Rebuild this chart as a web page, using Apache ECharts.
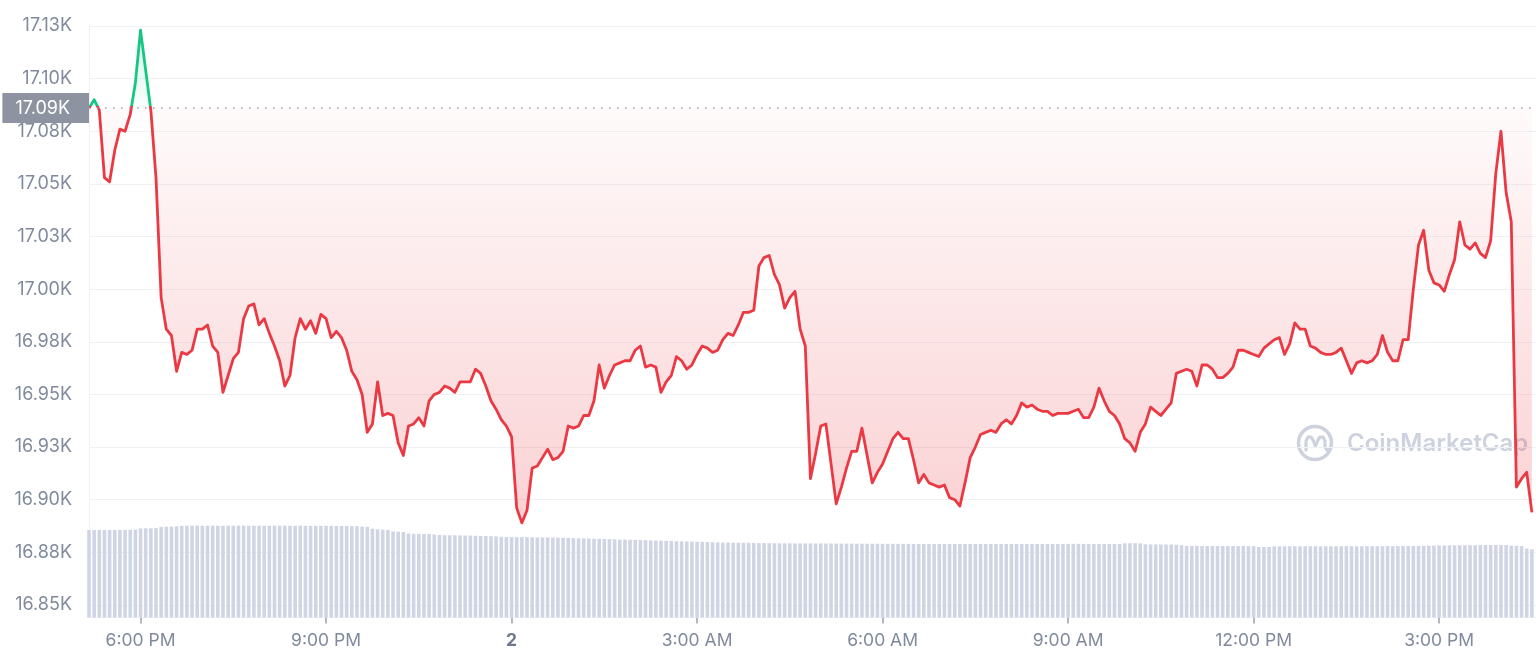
<!DOCTYPE html>
<html><head><meta charset="utf-8">
<script src="https://cdn.jsdelivr.net/npm/echarts@6/dist/echarts.min.js"></script>
<style>html,body{margin:0;padding:0;background:#fff}#c{width:1536px;height:661px}#err{position:absolute;left:300px;top:100px;color:#000;font:14px monospace}</style>
</head><body><div id="c"></div><div id="err"></div>
<script>
// ---- DATA ----
const startTime = '2022-12-01T17:10';   // first sample, 5-minute steps
const stepMinutes = 5;
const prices = [
17086,17090,17085,17053,17051,17066,17076,17075,17083,17098,
17123,17104,17085,17053,16996,16981,16978,16961,16970,16969,
16971,16981,16981,16983,16973,16970,16951,16959,16967,16970,
16986,16992,16993,16983,16986,16979,16973,16966,16954,16959,
16977,16986,16981,16985,16979,16988,16986,16977,16980,16977,
16971,16961,16957,16950,16932,16936,16956,16940,16941,16940,
16927,16921,16935,16936,16939,16935,16947,16950,16951,16954,
16953,16951,16956,16956,16956,16962,16960,16954,16947,16943,
16938,16935,16930,16896,16889,16895,16915,16916,16920,16924,
16919,16920,16923,16935,16934,16935,16940,16940,16947,16964,
16953,16959,16964,16965,16966,16966,16971,16973,16963,16964,
16963,16951,16956,16959,16968,16966,16962,16964,16969,16973,
16972,16970,16971,16976,16979,16978,16983,16989,16989,16990,
17011,17015,17016,17007,17002,16991,16996,16999,16981,16973,
16910,16922,16935,16936,16917,16898,16906,16915,16923,16923,
16934,16921,16908,16913,16917,16923,16929,16932,16929,16929,
16919,16908,16912,16908,16907,16906,16907,16901,16900,16897,
16908,16920,16925,16931,16932,16933,16932,16936,16938,16936,
16940,16946,16944,16945,16943,16942,16942,16940,16941,16941,
16941,16942,16943,16939,16939,16944,16953,16947,16942,16940,
16936,16929,16927,16923,16932,16936,16944,16942,16940,16943,
16946,16960,16961,16962,16961,16954,16964,16964,16962,16958,
16958,16960,16963,16971,16971,16970,16969,16968,16972,16974,
16976,16977,16969,16974,16984,16981,16981,16973,16972,16970,
16969,16969,16970,16972,16966,16960,16965,16966,16965,16966,
16969,16978,16970,16966,16966,16976,16976,17000,17021,17028,
17009,17003,17002,16999,17007,17014,17032,17021,17019,17022,
17017,17015,17023,17055,17075,17046,17032,16906,16910,16913,
16894
];
// 24h volume (billion USD)
const volumes = [
14.58,14.58,14.60,14.60,14.60,14.58,14.60,14.60,14.62,14.65,
14.85,14.87,14.87,14.90,
15.10,15.13,15.15,15.20,
15.28,15.30,15.30,15.32,15.30,15.30,15.31,
15.30,15.29,15.30,15.30,15.32,15.31,15.30,
15.30,15.30,15.29,15.30,15.31,15.30,15.30,
15.30,15.29,15.30,15.30,15.28,15.28,15.27,
15.28,15.27,15.26,15.25,15.25,15.24,15.22,
15.15,15.10,
14.80,14.70,14.65,14.60,
14.35,14.30,14.25,
14.00,13.95,13.95,13.90,13.90,13.85,
13.75,13.72,13.70,13.70,13.68,13.66,13.65,13.62,13.60,13.58,13.55,13.52,
13.45,13.42,13.42,13.40,13.40,13.40,13.38,13.36,13.35,13.35,13.33,13.30,13.28,
13.25,13.22,13.20,13.18,13.15,13.12,13.10,13.08,
13.05,13.02,13.00,12.98,12.95,12.92,12.90,12.88,12.85,12.82,
12.80,12.78,12.75,12.72,12.70,12.68,12.65,12.62,12.60,12.58,
12.55,12.52,12.50,12.50,12.48,12.46,12.45,12.44,12.42,12.40,12.40,12.38,12.38,12.37,12.37,
12.36,12.35,12.35,12.34,12.35,12.35,12.34,12.33,12.33,12.32,
12.32,12.31,12.31,12.30,12.30,12.30,12.29,12.29,12.28,12.28,
12.28,12.27,12.27,12.27,12.26,12.26,12.26,12.26,12.25,12.25,12.25,
12.25,12.25,12.25,12.25,12.25,12.25,12.25,12.25,12.25,12.25,
12.24,12.25,12.25,12.26,12.25,12.25,12.24,12.25,12.25,12.25,
12.25,12.25,12.26,12.27,12.28,12.28,12.27,12.26,12.25,12.25,
12.25,12.25,12.25,12.25,
12.37,12.38,12.38,12.36,
12.20,12.18,12.17,12.17,12.16,12.15,12.12,12.05,
11.95,11.93,11.92,11.92,11.92,11.91,11.92,11.92,11.92,11.91,11.90,11.90,11.90,11.88,
11.75,11.75,11.76,
11.86,11.87,11.87,11.88,11.87,11.87,11.87,11.88,11.88,11.87,
11.87,11.87,11.88,11.88,11.88,11.88,11.87,11.87,11.88,11.88,
11.88,11.88,11.89,11.89,11.90,11.90,11.92,11.92,11.93,11.94,11.95,
11.98,12.00,12.02,12.03,12.04,12.05,12.05,12.05,12.06,12.07,12.08,12.08,12.10,12.10,12.08,
11.98,11.95,11.90,
11.50,11.37
];
const xTickTimes = ['2022-12-01T18:00','2022-12-01T21:00','2022-12-02T00:00','2022-12-02T03:00',
                    '2022-12-02T06:00','2022-12-02T09:00','2022-12-02T12:00','2022-12-02T15:00'];
const xTickLabels = ['6:00 PM','9:00 PM','2','3:00 AM','6:00 AM','9:00 AM','12:00 PM','3:00 PM'];
const yMin = 16850, yMax = 17125, yStep = 25;
const axisEndMinutes = 1404;

// ---- BUILD ----
// x values are minutes elapsed since startTime
const t0 = new Date(startTime).getTime();
const minutes = prices.map((_, i) => i * stepMinutes);
const xTickMinutes = xTickTimes.map(s => Math.round((new Date(s).getTime() - t0) / 60000));
const fmtK = v => (Math.round(v / 10) / 100).toFixed(2) + 'K';
const openPrice = prices[0];
const pMax = Math.max(...prices), pMin = Math.min(...prices);
const f = (pMax - openPrice) / (pMax - pMin);

const GREEN = '#16c784', RED = '#ea3943', GREY = '#808a9d', FONT = 'Inter';
const WM = '#cdd2de';

try {
const chart = echarts.init(document.getElementById('c'), null, {renderer: 'canvas'});
chart.setOption({
  animation: false,
  backgroundColor: '#ffffff',
  textStyle: {fontFamily: FONT},
  grid: [
    {left: 89, right: 0, top: 26, bottom: 56},
    {left: 89, right: 0, top: 497.5, bottom: 43.5}
  ],
  xAxis: [
    {type: 'value', gridIndex: 0, min: 0, max: axisEndMinutes, show: false, splitLine: {show: false}},
    {type: 'value', gridIndex: 1, min: 0, max: axisEndMinutes,
     axisLine: {show: true, lineStyle: {color: '#eff2f5'}},
     axisTick: {show: true, customValues: xTickMinutes, length: 6, lineStyle: {color: '#9aa0ad', width: 1.5}},
     splitLine: {show: false},
     axisLabel: {customValues: xTickMinutes, color: GREY, fontSize: 17.5, margin: 14, fontFamily: FONT,
       formatter: v => {
         const i = xTickMinutes.indexOf(v);
         const s = i >= 0 ? xTickLabels[i] : '';
         return s.indexOf(':') < 0 && s ? '{b|' + s + '}' : s;
       },
       rich: {b: {fontWeight: 'bold', color: '#6f778a', fontSize: 17.5, fontFamily: FONT}}
     }}
  ],
  yAxis: [
    {type: 'value', gridIndex: 0, min: yMin, max: yMax, interval: yStep,
     axisLine: {show: true, lineStyle: {color: '#eff2f5'}},
     axisTick: {show: false},
     splitLine: {lineStyle: {color: '#eff2f5', width: 1}},
     axisLabel: {formatter: fmtK, color: GREY, fontSize: 18, margin: 17, fontFamily: FONT}},
    {type: 'value', gridIndex: 1, min: 0, max: 20, show: false, splitLine: {show: false}}
  ],
  graphic: [{
    type: 'group', x: 1297, y: 425, z: 1, silent: true,
    children: [
      {type: 'circle', shape: {cx: 18, cy: 18, r: 16.5}, style: {fill: 'none', stroke: WM, lineWidth: 3.5}},
      {type: 'polyline', shape: {points: [[9,25],[9,16],[11,12],[14,12],[16,15],[18.5,21],[21,15],[23,12],[26,12],[28,16],[28,22],[30,25],[33,23]]},
       style: {fill: 'none', stroke: WM, lineWidth: 3.2, lineCap: 'round', lineJoin: 'round'}},
      {type: 'text', x: 50, y: 19, style: {text: 'CoinMarketCap', font: '600 24px Inter', fill: WM, verticalAlign: 'middle'}}
    ]
  }],
  series: [
    {
      type: 'line', xAxisIndex: 0, yAxisIndex: 0, z: 3,
      data: minutes.map((m, i) => [m, prices[i]]),
      symbol: 'none', smooth: false,
      lineStyle: {width: 2.8, join: 'round', color: {type: 'linear', x: 0, y: 0, x2: 0, y2: 1, colorStops: [
        {offset: 0, color: GREEN}, {offset: f, color: GREEN},
        {offset: f, color: RED}, {offset: 1, color: RED}
      ]}},
      areaStyle: {
        origin: openPrice,
        color: {type: 'linear', x: 0, y: 0, x2: 0, y2: 1, colorStops: [
          {offset: 0, color: 'rgba(22,199,132,0.25)'},
          {offset: f, color: 'rgba(22,199,132,0.03)'},
          {offset: f, color: 'rgba(234,57,67,0.03)'},
          {offset: 1, color: 'rgba(234,57,67,0.33)'}
        ]}
      },
      markLine: {
        silent: true, symbol: 'none', animation: false,
        emphasis: {disabled: true},
        lineStyle: {type: [1.5, 6.5], color: '#9ca3b0', width: 1.5},
        label: {position: 'start', formatter: fmtK(openPrice), color: '#ffffff', backgroundColor: '#8e93a2',
                fontSize: 18, padding: [6, 19, 6, 13], distance: 0, fontFamily: FONT},
        data: [{yAxis: openPrice}]
      }
    },
    {
      type: 'bar', xAxisIndex: 1, yAxisIndex: 1, z: 1,
      data: minutes.map((m, i) => [m, volumes[i]]),
      barWidth: 3.6,
      itemStyle: {color: '#cfd5e4'}
    }
  ]
});
} catch (e) { document.getElementById('err').textContent = 'ERR: ' + e.message; }
window.addEventListener('error', e => { document.getElementById('err').textContent = 'ERR2: ' + e.message; });
</script>
</body></html>
